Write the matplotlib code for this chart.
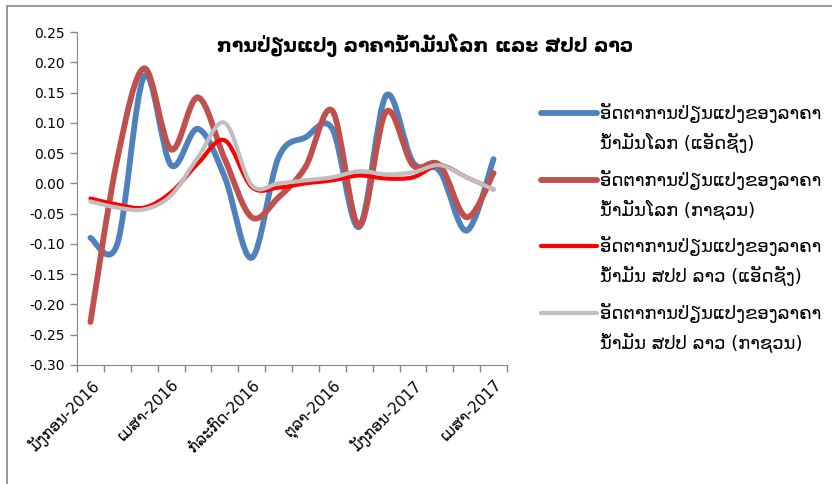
import matplotlib
matplotlib.use("Agg")
import matplotlib.pyplot as plt
from matplotlib.path import Path
from matplotlib.patches import PathPatch, Rectangle
from matplotlib.lines import Line2D

plt.rcParams['font.family'] = ['DejaVu Sans']

# months Jan-2016 .. Apr-2017
months = list(range(16))
tick_pos = [0, 3, 6, 9, 12, 15]
tick_labels = ['ມັງກອນ-2016', 'ເມສາ-2016', 'ກໍລະກົດ-2016', 'ຕຸລາ-2016',
               'ມັງກອນ-2017', 'ເມສາ-2017']

world_gasoline = [-0.09, -0.10, 0.177, 0.03, 0.09, 0.01, -0.123, 0.043,
                  0.076, 0.09, -0.072, 0.145, 0.035, 0.02, -0.078, 0.04]
world_diesel = [-0.229, 0.04, 0.19, 0.056, 0.142, 0.04, -0.056, -0.023,
                0.027, 0.12, -0.07, 0.118, 0.03, 0.03, -0.056, 0.017]
lao_gasoline = [-0.025, -0.035, -0.04, -0.015, 0.033, 0.071, -0.006, -0.007,
                0.0, 0.005, 0.013, 0.008, 0.01, 0.03, 0.01, -0.01]
lao_diesel = [-0.03, -0.04, -0.043, -0.02, 0.043, 0.10, -0.003, 0.0,
              0.005, 0.01, 0.02, 0.015, 0.018, 0.03, 0.01, -0.01]

labels = [('ອັດຕາການປ່ຽນແປງຂອງລາຄາ', 'ນ້ຳມັນໂລກ (ແອັດຊັງ)'),
          ('ອັດຕາການປ່ຽນແປງຂອງລາຄາ', 'ນ້ຳມັນໂລກ (ກາຊວນ)'),
          ('ອັດຕາການປ່ຽນແປງຂອງລາຄາ', 'ນ້ຳມັນ ສປປ ລາວ (ແອັດຊັງ)'),
          ('ອັດຕາການປ່ຽນແປງຂອງລາຄາ', 'ນ້ຳມັນ ສປປ ລາວ (ກາຊວນ)')]
colors = ['#4F81BD', '#C0504D', '#FF0000', '#BFBFBF']
widths = [4.2, 4.2, 3.0, 3.0]


def smooth_path(x, y):
    # excel-like smoothed line: cubic bezier through the points
    pts = list(zip(x, y))
    n = len(pts)
    verts = [pts[0]]
    codes = [Path.MOVETO]
    for i in range(n - 1):
        p0 = pts[i - 1] if i > 0 else pts[i]
        p1 = pts[i]
        p2 = pts[i + 1]
        p3 = pts[i + 2] if i + 2 < n else pts[i + 1]
        c1 = (p1[0] + (p2[0] - p0[0]) / 6, p1[1] + (p2[1] - p0[1]) / 6)
        c2 = (p2[0] - (p3[0] - p1[0]) / 6, p2[1] - (p3[1] - p1[1]) / 6)
        verts += [c1, c2, p2]
        codes += [Path.CURVE4] * 3
    return Path(verts, codes)


fig = plt.figure(figsize=(8.32, 4.84), dpi=100)
ax = fig.add_axes([77 / 832, 1 - 365 / 484, 430 / 832, 333 / 484])

for ys, c, lw in zip([world_gasoline, world_diesel, lao_gasoline, lao_diesel], colors, widths):
    ax.add_patch(PathPatch(smooth_path(months, ys), fill=False, edgecolor=c, lw=lw,
                           capstyle='round', joinstyle='round'))

ax.set_xlim(-0.5, 15.5)
ax.set_ylim(-0.30, 0.25)
ax.set_yticks([0.25 - 0.05 * k for k in range(12)])
ax.set_yticklabels([f"{0.25 - 0.05 * k:.2f}" for k in range(12)], fontsize=10)

ax.set_xticks([m - 0.5 for m in months] + [15.5])
ax.set_xticklabels([])
ax.set_xticks(tick_pos, minor=True)
ax.set_xticklabels(tick_labels, minor=True, rotation=45, ha='right', va='top',
                   rotation_mode='anchor', fontsize=11)
ax.tick_params(axis='x', which='minor', length=0, pad=9)
ax.tick_params(axis='both', which='major', color='#868686', length=5, width=1)

for s in ['top', 'right']:
    ax.spines[s].set_visible(False)
for s in ['left', 'bottom']:
    ax.spines[s].set_color('#868686')

fig.text(425 / 832, 1 - 45 / 484, 'ການປ່ຽນແປງ ລາຄານ້ຳມັນໂລກ ແລະ ສປປ ລາວ',
         ha='center', va='center', fontsize=13.5, fontweight='bold')

# legend, drawn by hand so the marker sits on the first text line
for i, ((l1, l2), c, lw) in enumerate(zip(labels, colors, widths)):
    y = 1 - (113 + 66.7 * i) / 484
    fig.add_artist(Line2D([541 / 832, 597 / 832], [y, y], transform=fig.transFigure,
                          color=c, lw=lw, solid_capstyle='round'))
    fig.text(600 / 832, y, l1, ha='left', va='center', fontsize=13)
    fig.text(600 / 832, y - 30 / 484, l2, ha='left', va='center', fontsize=13)

fig.patches.append(Rectangle((7 / 832, -0.1), 1.2, 1 - 6 / 484 + 0.1, transform=fig.transFigure,
                             fill=False, edgecolor='#868686', lw=1.2))

fig.savefig('out.png', dpi=100)
